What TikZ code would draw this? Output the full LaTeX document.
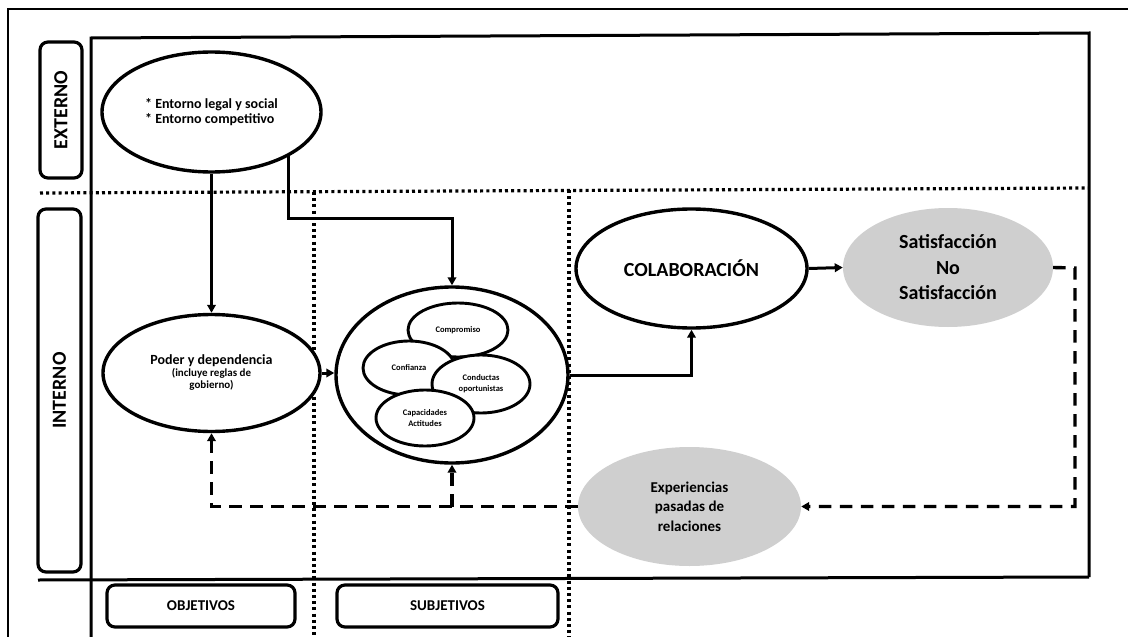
\documentclass[tikz,border=0pt]{standalone}
\usepackage{fontspec}
\setmainfont{Carlito}
\usetikzlibrary{shapes.geometric,arrows.meta,calc}

\begin{document}
\begin{tikzpicture}[x=1pt,y=-1pt,
  frame/.style={line width=2.2pt},
  boxline/.style={line width=3pt},
  dots/.style={line width=3.2pt, dash pattern=on 3pt off 3.2pt},
  oval/.style={ellipse, draw, line width=3.4pt, fill=white, inner sep=0pt, align=center, font=\bfseries},
  grayoval/.style={ellipse, fill=black!19, inner sep=0pt, align=center, font=\bfseries},
  sub/.style={ellipse, draw, line width=2.9pt, fill=white, inner sep=0pt, align=center,
    font=\bfseries\fontsize{8.5}{11}\selectfont},
  tag/.style={draw, rounded corners=8pt, line width=3.2pt, inner sep=0pt, font=\bfseries},
  arr/.style={line width=3pt, -{Triangle[length=8pt,width=8.5pt]}},
  dsh/.style={line width=3.4pt, dash pattern=on 12.5pt off 8.5pt, -{Triangle[length=8pt,width=8.5pt]}},
]
\useasboundingbox (0,0) rectangle (1128,637);
\clip (0,0) rectangle (1128,637);
\fill[white] (0,0) rectangle (1128,637);

% outer frame
\draw[frame] (8,645) -- (8,9) -- (1135,9);

% main panel
\draw[boxline] (91,645) -- (91,38) -- (1089,33) -- (1089,577);
\draw[boxline] (38,580) -- (1089,577);

% dotted separators
\draw[dots] (40,193) -- (1089,188);
\draw[dots] (314,192) -- (314,640);
\draw[dots] (569,190) -- (569,640);

% side and bottom tags
\node[tag, rotate=90, minimum width=136pt, minimum height=42pt, font=\bfseries\fontsize{20}{24}\selectfont]
  (ext) at (61,110) {EXTERNO};
\node[tag, rotate=90, minimum width=363pt, minimum height=43pt, font=\bfseries\fontsize{20}{24}\selectfont]
  (int) at (59.5,390.5) {INTERNO};
\node[tag, minimum width=188pt, minimum height=42pt, font=\bfseries\fontsize{15}{18}\selectfont]
  (obj) at (201,606) {OBJETIVOS};
\node[tag, minimum width=221pt, minimum height=42pt, font=\bfseries\fontsize{15}{18}\selectfont]
  (subj) at (447.5,606) {SUBJETIVOS};

% ovals
\node[oval, align=left, minimum width=219pt, minimum height=120pt, font=\bfseries\fontsize{14}{15.5}\selectfont]
  (ent) at (211.5,112) {* Entorno legal y social\\* Entorno competitivo};
\node[oval, minimum width=217pt, minimum height=117pt]
  (poder) at (211.5,373) {{\fontsize{14}{15}\selectfont Poder y dependencia}\\
    {\fontsize{11}{15}\selectfont (incluye reglas de}\\{\fontsize{11}{15}\selectfont gobierno)}};
\node[oval, minimum width=232pt, minimum height=176pt] (circ) at (452,375) {};
\node[sub, minimum width=100pt, minimum height=54pt] (comp) at (458,330) {Compromiso};
\node[sub, minimum width=92pt, minimum height=54pt] (conf) at (409,368) {Confianza};
\node[sub, minimum width=98pt, minimum height=58pt] (cond) at (481,384) {Conductas\\oportunistas};
\node[sub, minimum width=98pt, minimum height=56pt] (cap) at (425,418) {Capacidades\\Actitudes};
\node[oval, minimum width=231pt, minimum height=119pt, font=\bfseries\fontsize{20}{24}\selectfont]
  (colab) at (691.5,268.5) {COLABORACIÓN};
\node[grayoval, minimum width=210pt, minimum height=119pt, font=\bfseries\fontsize{20}{25.5}\selectfont]
  (sat) at (948,267.5) {Satisfacción\\No\\Satisfacción};
\node[grayoval, minimum width=223pt, minimum height=119pt, font=\bfseries\fontsize{15}{19.3}\selectfont]
  (exp) at (689.5,506.5) {Experiencias\\pasadas de\\relaciones};

% solid connectors
\draw[arr] (ent.south) -- (poder.north);
\draw[arr] (ent.-30) |- ($(circ.north)+(0,-67)$) -- (circ.north);
\draw[arr] (poder.east) -- (poder.east -| circ.west);
\draw[arr] (circ.east) -| (colab.south);
\draw[arr] (colab.east) -- (sat.west);

% feedback loop
\coordinate (turn) at (1075,268);
\draw[dsh] (sat.east) -- (turn) |- (exp.east);
\draw[dsh] (exp.west) -| (poder.south);
\draw[dsh] (circ.south |- exp.west) -- (circ.south);
\end{tikzpicture}
\end{document}
